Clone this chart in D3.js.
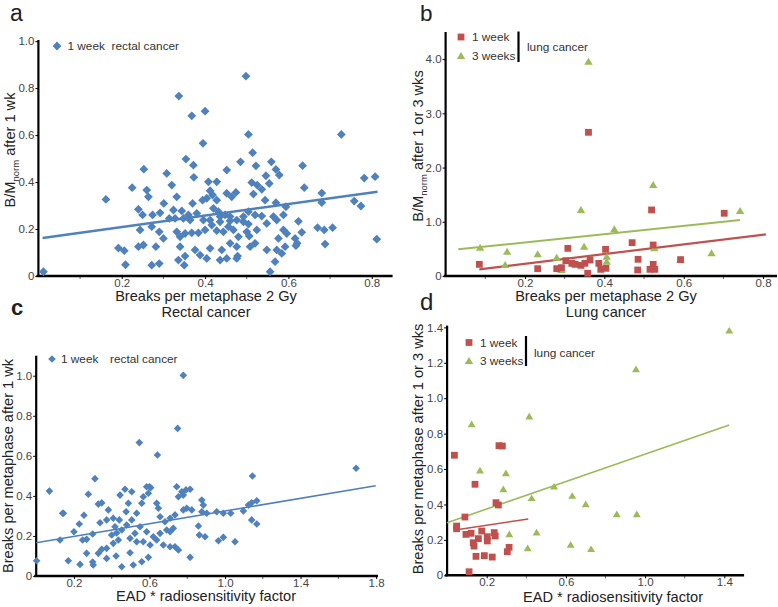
<!DOCTYPE html>
<html><head><meta charset="utf-8">
<script src="https://cdn.jsdelivr.net/npm/d3@7"></script>
<style>body{margin:0;background:#fff}svg{display:block;font-family:"Liberation Sans",Arial,sans-serif}</style>
</head><body><svg id="c" width="778" height="607"></svg>
<script>
// ---------- DATA ----------
// Panel a: rectal cancer, breaks per metaphase 2 Gy (x) vs B/Mnorm after 1 wk (y)
const rectalA = [
[0.012,0.018],[0.162,0.326],[0.192,0.119],[0.206,0.108],[0.209,0.048],[0.337,0.766],[0.368,0.682],[0.395,0.565],[0.4,0.702],[0.498,0.851],[0.504,0.603],[0.618,0.129],[0.624,0.233],[0.632,0.186],[0.616,0.16],[0.634,0.47],[0.638,0.376],[0.67,0.206],[0.68,0.353],[0.68,0.313],[0.686,0.196],[0.688,0.136],[0.706,0.206],[0.727,0.603],[0.758,0.319],[0.774,0.298],[0.782,0.417],[0.808,0.423],[0.812,0.157],[0.621,0.139],
[0.354,0.498],[0.372,0.472],[0.253,0.455],[0.308,0.437],[0.373,0.42],[0.452,0.451],[0.485,0.486],[0.514,0.525],[0.522,0.469],[0.559,0.486],[0.570,0.454],[0.578,0.43],[0.546,0.427],[0.554,0.394],[0.512,0.398],[0.525,0.387],[0.225,0.376],[0.32,0.387],[0.408,0.401],[0.428,0.401],[0.26,0.366],[0.264,0.337],[0.332,0.337],[0.412,0.363],[0.418,0.345],[0.404,0.331],[0.394,0.323],[0.452,0.352],[0.464,0.337],[0.474,0.356],[0.428,0.323],[0.516,0.349],[0.536,0.369],[0.544,0.323],[0.570,0.312],[0.594,0.295],[0.301,0.309],[0.370,0.309],[0.324,0.281],[0.344,0.277],[0.24,0.284],[0.25,0.26],[0.274,0.26],[0.292,0.269],[0.36,0.26],[0.38,0.267],[0.42,0.288],[0.432,0.274],[0.436,0.253],[0.448,0.26],[0.46,0.253],[0.492,0.253],[0.504,0.274],[0.52,0.26],[0.536,0.255],[0.564,0.253],[0.572,0.238],[0.588,0.26],[0.314,0.245],[0.328,0.245],[0.348,0.245],[0.364,0.238],[0.396,0.238],[0.412,0.238],[0.436,0.231],[0.46,0.235],[0.476,0.238],[0.492,0.231],[0.504,0.221],[0.244,0.196],[0.272,0.21],[0.29,0.188],[0.3,0.16],[0.332,0.188],[0.34,0.167],[0.352,0.181],[0.368,0.184],[0.384,0.184],[0.4,0.196],[0.416,0.217],[0.428,0.193],[0.444,0.188],[0.456,0.21],[0.468,0.196],[0.48,0.167],[0.5,0.188],[0.506,0.17],[0.524,0.196],[0.548,0.224],[0.588,0.196],[0.596,0.181],[0.24,0.125],[0.252,0.132],[0.282,0.125],[0.34,0.125],[0.376,0.111],[0.388,0.089],[0.412,0.118],[0.44,0.111],[0.46,0.139],[0.476,0.125],[0.478,0.085],[0.508,0.125],[0.52,0.139],[0.548,0.111],[0.572,0.111],[0.576,0.16],[0.584,0.096],[0.592,0.125],[0.336,0.068],[0.352,0.085],[0.272,0.046],[0.29,0.053],[0.35,0.046],[0.404,0.075],[0.436,0.068],[0.452,0.075],[0.476,0.075],[0.568,0.061],[0.556,0.018]
];
const fitA = [[0.01,0.162],[0.814,0.359]];

// Panel b: lung cancer, breaks per metaphase 2 Gy vs B/Mnorm
const lung1wkB = [[0.085,0.215],[0.232,0.135],[0.28,0.135],[0.292,0.154],[0.308,0.51],[0.303,0.283],[0.318,0.234],[0.341,0.197],[0.351,0.234],[0.364,0.295],[0.358,0.05],[0.36,2.65],[0.386,0.234],[0.391,0.123],[0.404,0.142],[0.403,0.492],[0.47,0.615],[0.485,0.308],[0.484,0.111],[0.519,1.218],[0.515,0.123],[0.523,0.215],[0.523,0.572],[0.527,0.123],[0.592,0.302],[0.702,1.157],[0.326,0.215]];
const lung3wkB = [[0.087,0.522],[0.15,0.203],[0.155,0.449],[0.232,0.4],[0.28,0.338],[0.292,0.111],[0.32,0.234],[0.341,1.218],[0.349,0.54],[0.36,3.95],[0.406,0.264],[0.406,0.356],[0.425,0.861],[0.523,1.679],[0.526,0.51],[0.592,0.295],[0.67,0.418],[0.742,1.2]];
const fit1wkB = [[0.085,0.123],[0.807,0.769]];
const fit3wkB = [[0.032,0.492],[0.742,1.033]];

// Panel c: rectal cancer, EAD * radiosensitivity factor vs breaks per metaphase after 1 wk
const rectalC = [
[0.642,0.604],[1.145,0.499],[0.311,0.486],[0.144,0.313],[0.276,0.408],[0.329,0.359],[0.347,0.365],[0.253,0.303],[0.228,0.26],[0.2,0.221],[0.126,0.18],[0.246,0.18],[0.267,0.183],[0.299,0.21],[0.338,0.266],[0.373,0.28],[0.382,0.33],[0.408,0.288],[0.444,0.404],[0.47,0.433],[0.506,0.421],[0.488,0.363],[0.476,0.321],[0.44,0.28],[0.417,0.246],[0.4,0.205],[0.426,0.215],[0.453,0.23],[0.479,0.255],[0.506,0.28],[0.532,0.313],[0.559,0.363],[0.567,0.396],[0.594,0.413],[0.606,0.441],[0.638,0.363],[0.647,0.338],[0.656,0.296],[0.682,0.271],[0.709,0.288],[0.726,0.238],[0.691,0.23],[0.656,0.213],[0.62,0.196],[0.585,0.221],[0.55,0.246],[0.523,0.213],[0.497,0.188],[0.532,0.171],[0.567,0.171],[0.603,0.155],[0.638,0.18],[0.673,0.155],[0.709,0.146],[0.735,0.146],[0.753,0.13],[0.435,0.18],[0.408,0.163],[0.373,0.138],[0.347,0.133],[0.329,0.113],[0.267,0.113],[0.299,0.07],[0.302,0.055],[0.232,0.058],[0.17,0.076],[0.373,0.088],[0.423,0.1],[0.453,0.046],[0.497,0.116],[0.514,0.055],[0.559,0.071],[0.594,0.093],[0.6,0.446],[0.744,0.446],[0.771,0.421],[0.793,0.43],[0.815,0.433],[0.753,0.396],[0.779,0.404],[0.797,0.338],[0.779,0.33],[0.824,0.33],[0.735,0.305],[0.709,0.221],[0.877,0.379],[0.885,0.354],[0.877,0.321],[0.903,0.313],[0.859,0.25],[0.864,0.205],[0.894,0.196],[0.956,0.321],[0.991,0.313],[1.03,0.313],[0.965,0.176],[0.991,0.193],[1.053,0.171],[0.815,0.093],[1.097,0.325],[1.124,0.354],[1.141,0.366],[1.168,0.376],[1.141,0.28],[1.168,0.26],[0.585,0.446],
[0.002,0.076],[0.07,0.424],[0.14,0.313],[0.779,1.002],[0.749,0.737],[0.546,0.666],[1.694,0.538]
];
const fitC = [[0.0,0.166],[1.798,0.451]];

// Panel d: lung cancer, EAD * radiosensitivity factor vs breaks per metaphase after 1 or 3 wks
const lung1wkD = [[0.037,0.678],[0.048,0.278],[0.048,0.263],[0.09,0.329],[0.095,0.231],[0.121,0.237],[0.111,0.02],[0.132,0.184],[0.136,0.165],[0.141,0.514],[0.146,0.107],[0.158,0.207],[0.175,0.25],[0.188,0.111],[0.203,0.218],[0.203,0.194],[0.228,0.103],[0.238,0.241],[0.243,0.222],[0.247,0.41],[0.259,0.397],[0.262,0.732],[0.279,0.73],[0.304,0.133],[0.313,0.158]];
const lung3wkD = [[0.124,0.852],[0.166,0.591],[0.297,0.576],[0.284,0.485],[0.415,0.896],[0.427,0.435],[0.54,0.5],[0.632,0.448],[0.7,0.401],[0.857,0.344],[0.958,0.344],[0.954,1.163],[1.425,1.381],[0.314,0.231],[0.452,0.241],[0.407,0.152],[0.624,0.171],[0.727,0.147]];
const fit1wkD = [[0.04,0.256],[0.41,0.318]];
const fit3wkD = [[0.0,0.297],[1.425,0.849]];

// tick values
const ticksAx = [0.2,0.4,0.6,0.8], minorAx = [0.1,0.3,0.5,0.7];
const ticksAy = [0,0.2,0.4,0.6,0.8,1.0];
const ticksBy = [0,1,2,3,4];
const ticksCx = [0.2,0.6,1.0,1.4,1.8], minorCx = [0.4,0.8,1.2,1.6];
const ticksCy = [0,0.2,0.4,0.6,0.8,1.0];
const ticksDx = [0.2,0.6,1.0,1.4], minorDx = [0.4,0.8,1.2];
const ticksDy = [0,0.2,0.4,0.6,0.8,1.0,1.2,1.4];

// ---------- DRAW ----------
const svg = d3.select("#c");
const BLUE="#4f81bd", RED="#c0504d", GREEN="#9bbb59";
const fmt = v => v===0 ? "0" : d3.format(".1f")(v);
const TICKF = "11.5px", TITLEF = 14.6, LEGF = 11.8;

function panel(o){
  const g = svg.append("g");
  const x = d3.scaleLinear().domain(o.xd).range(o.xr);
  const y = d3.scaleLinear().domain(o.yd).range(o.yr);
  const xa = d3.axisBottom(x).tickValues(o.xt).tickFormat(fmt).tickSize(3).tickPadding(0);
  const gx = g.append("g").attr("transform",`translate(0,${o.yr[0]})`).call(xa);
  gx.select(".domain").remove();
  gx.selectAll("text").attr("fill","#444").style("font-size",TICKF).style("font-family","Liberation Sans, Arial");
  gx.selectAll("line").attr("stroke","#000");
  if(o.xm){ g.append("g").selectAll("line").data(o.xm).join("line")
     .attr("x1",d=>x(d)).attr("x2",d=>x(d)).attr("y1",o.yr[0]).attr("y2",o.yr[0]+3).attr("stroke","#666"); }
  const ya = d3.axisLeft(y).tickValues(o.yt).tickFormat(fmt).tickSize(3).tickPadding(1);
  const gy = g.append("g").attr("transform",`translate(${o.xr[0]},0)`).call(ya);
  gy.select(".domain").remove();
  gy.selectAll("text").attr("fill","#444").style("font-size",TICKF).style("font-family","Liberation Sans, Arial");
  gy.selectAll("line").attr("stroke","#000");
  g.append("line").attr("x1",o.xr[0]).attr("x2",o.xr[0]).attr("y1",o.yr[0]+1).attr("y2",o.yr[1]).attr("stroke","#000").attr("stroke-width",2.2);
  g.append("line").attr("x1",o.xr[0]-2).attr("x2",o.xr[1]).attr("y1",o.yr[0]).attr("y2",o.yr[0]).attr("stroke","#000").attr("stroke-width",2.6);
  const line = d3.line().x(d=>x(d[0])).y(d=>y(d[1]));
  (o.fits||[]).forEach(f=>{
    g.append("path").attr("d",line(f.data)).attr("fill","none").attr("stroke",f.color).attr("stroke-width",f.w||2);
  });
  (o.series||[]).forEach(s=>{
    const r = s.r;
    g.append("g").selectAll("path").data(s.data).join("path")
      .attr("d",d=>markPath(s.shape,x(d[0]),y(d[1]),r)).attr("fill",s.color);
  });
  return {x,y,g};
}
function markPath(shape,cx,cy,r){
  if(shape==="diamond") return `M${cx},${cy-r}L${cx+r},${cy}L${cx},${cy+r}L${cx-r},${cy}Z`;
  if(shape==="square") return `M${cx-r},${cy-r}h${2*r}v${2*r}h${-2*r}Z`;
  return `M${cx},${cy-r}L${cx+r*1.05},${cy+r*0.75}L${cx-r*1.05},${cy+r*0.75}Z`;
}
function ylabel(x, y, parts, size){
  const t = svg.append("text").attr("transform",`translate(${x},${y}) rotate(-90)`)
    .attr("text-anchor","middle").attr("fill","#222").style("font-size",size+"px");
  parts.forEach(p=>{
    const ts = t.append("tspan").text(p.t);
    if(p.sub){ ts.attr("dy",4).style("font-size",(size*0.65)+"px"); }
    else if(p.after){ ts.attr("dy",-4); }
  });
}
function txt(x,y,s,size,opts={}){
  const t = svg.append("text").attr("x",x).attr("y",y).text(s).attr("fill",opts.fill||"#222")
    .style("font-size",size+"px").attr("text-anchor",opts.anchor||"start");
  if(opts.weight) t.style("font-weight",opts.weight);
  return t;
}
function legendMark(shape,cx,cy,color,r){
  svg.append("path").attr("d",markPath(shape,cx,cy,r)).attr("fill",color);
}

// Panel a
panel({xd:[0,0.85], xr:[38.4,392.6], yd:[0,1.005], yr:[276,40],
  xt:ticksAx, xm:minorAx, yt:ticksAy,
  fits:[{data:fitA,color:BLUE,w:2.6}],
  series:[{data:rectalA,shape:"diamond",color:BLUE,r:4.4}]});
txt(10,21,"a",23);
legendMark("diamond",57,46,BLUE,4.4);
txt(67.5,50,"1 week",LEGF,{fill:"#333"}); txt(111.5,50,"rectal cancer",LEGF,{fill:"#333"});
txt(206,301,"Breaks per metaphase 2 Gy",TITLEF,{anchor:"middle"});
txt(206,317,"Rectal cancer",TITLEF,{anchor:"middle"});
ylabel(15,150,[{t:"B/M"},{t:"norm",sub:true},{t:" after 1 wk",after:true}],TITLEF);

// Panel b
panel({xd:[0,0.835], xr:[445.6,777], yd:[0,4.5], yr:[276,32],
  xt:ticksAx, xm:minorAx, yt:ticksBy,
  fits:[{data:fit3wkB,color:GREEN,w:2},{data:fit1wkB,color:RED,w:2.2}],
  series:[{data:lung3wkB,shape:"tri",color:GREEN,r:4},{data:lung1wkB,shape:"square",color:RED,r:3.4}]});
txt(420,20.5,"b",22.5);
legendMark("square",461,37,RED,3.4); legendMark("tri",461,56,GREEN,4);
txt(472,41,"1 week",LEGF,{fill:"#333"}); txt(472,60,"3 weeks",LEGF,{fill:"#333"});
svg.append("line").attr("x1",518.5).attr("x2",518.5).attr("y1",31.5).attr("y2",62).attr("stroke","#000").attr("stroke-width",2.2);
txt(527,51,"lung cancer",LEGF,{fill:"#333"});
txt(606,301,"Breaks per metaphase 2 Gy",TITLEF,{anchor:"middle"});
txt(606,317,"Lung cancer",TITLEF,{anchor:"middle"});
ylabel(423,146,[{t:"B/M"},{t:"norm",sub:true},{t:" after 1 or 3 wks",after:true}],TITLEF);

// Panel c
panel({xd:[0,1.81], xr:[36.2,378], yd:[0,1.1], yr:[576,355.7],
  xt:ticksCx, xm:minorCx, yt:ticksCy,
  fits:[{data:fitC,color:BLUE,w:1.6}],
  series:[{data:rectalC,shape:"diamond",color:BLUE,r:3.8}]});
txt(11,315,"c",22,{weight:"bold"});
legendMark("diamond",52,359,BLUE,3.8);
txt(61,363,"1 week",LEGF,{fill:"#333"}); txt(110,363,"rectal cancer",LEGF,{fill:"#333"});
txt(206,601,"EAD * radiosensitivity factor",TITLEF,{anchor:"middle"});
ylabel(13,466,[{t:"Breaks per metaphase after 1 wk"}],TITLEF);

// Panel d
panel({xd:[0,1.5], xr:[447.1,744.1], yd:[0,1.41], yr:[575.3,325.6],
  xt:ticksDx, xm:minorDx, yt:ticksDy,
  fits:[{data:fit3wkD,color:GREEN,w:1.6},{data:fit1wkD,color:RED,w:1.6}],
  series:[{data:lung3wkD,shape:"tri",color:GREEN,r:3.8},{data:lung1wkD,shape:"square",color:RED,r:3.4}]});
txt(420,310,"d",24);
legendMark("square",469,342.5,RED,3.4); legendMark("tri",469,361,GREEN,4);
txt(480,346.5,"1 week",LEGF,{fill:"#333"}); txt(480,365,"3 weeks",LEGF,{fill:"#333"});
svg.append("line").attr("x1",526).attr("x2",526).attr("y1",336).attr("y2",366).attr("stroke","#000").attr("stroke-width",2.2);
txt(534,356.5,"lung cancer",LEGF,{fill:"#333"});
txt(613,601.5,"EAD * radiosensitivity factor",TITLEF,{anchor:"middle"});
ylabel(423,449,[{t:"Breaks per metaphase after 1 or 3 wks"}],TITLEF);
</script></body></html>
